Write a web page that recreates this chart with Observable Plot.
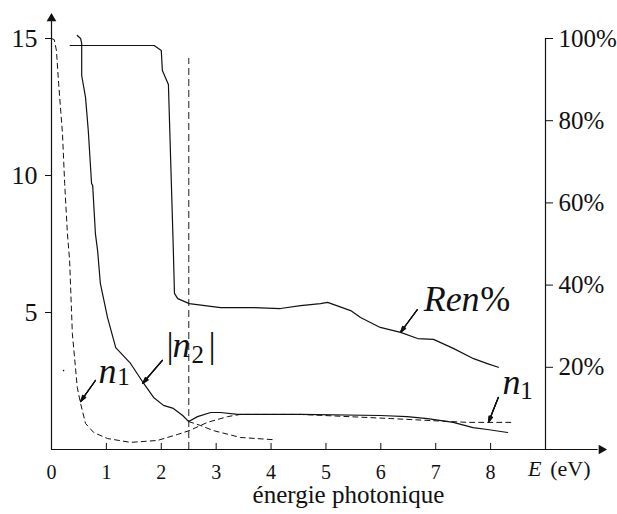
<!DOCTYPE html>
<html>
<head>
<meta charset="utf-8">
<script src="https://cdn.jsdelivr.net/npm/d3@7"></script>
<script src="https://cdn.jsdelivr.net/npm/@observablehq/plot@0.6"></script>
<style>
  html, body { margin: 0; padding: 0; background: white; }
  #wrap { position: relative; width: 617px; height: 514px; overflow: hidden; }
  #caption { position: absolute; top: 482px; left: 348.5px; transform: translateX(-50%); white-space: nowrap;
    font-family: "Liberation Serif", "DejaVu Serif", serif; font-size: 25px; line-height: 26px; color: #111; }
</style>
</head>
<body>
<div id="wrap">
  <div id="chart"></div>
  <div id="caption"></div>
</div>
<script>
// ---- data ----
const xTicks = [0, 1, 2, 3, 4, 5, 6, 7, 8];
const yTicks = [5, 10, 15];
const pctTicks = [20, 40, 60, 80, 100];
const PCT = 15 / 100; // right axis: 100% corresponds to 15 on the left axis
const xTitle = "énergie photonique";

// Ren% (right axis, percent)
const renE = [0.34, 1.87, 2.0, 2.02, 2.13, 2.22, 2.24, 2.30, 2.51, 3.08, 3.68, 4.17, 4.54, 4.90, 5.03, 5.45, 5.63, 5.99, 6.36, 6.67, 6.96, 7.32, 7.69, 7.94, 8.14];
const renPct = [98.3, 98.3, 97.1, 92.2, 88.8, 48.4, 38.0, 36.7, 35.5, 34.5, 34.5, 34.3, 35.0, 35.5, 35.8, 33.8, 32.1, 29.7, 28.5, 27.0, 26.8, 24.6, 22.1, 20.9, 20.0];

// |n2| (solid)
const n2E = [0.47, 0.53, 0.55, 0.55, 0.62, 0.67, 0.73, 0.75, 0.80, 0.84, 0.89, 1.02, 1.17, 1.44, 1.68, 1.86, 2.04, 2.22, 2.39, 2.5, 2.66, 2.90, 3.08, 3.39, 4.54, 5.99, 6.48, 6.85, 7.32, 7.68, 7.94, 8.31];
const n2V = [15.11, 15.0, 14.82, 13.65, 12.85, 11.64, 9.71, 9.64, 7.88, 7.26, 6.06, 4.82, 3.72, 3.14, 2.41, 1.90, 1.61, 1.50, 1.24, 1.02, 1.20, 1.35, 1.35, 1.28, 1.28, 1.24, 1.20, 1.13, 0.99, 0.80, 0.73, 0.62];

// n1 (dashed)
const n1E = [0, 0.05, 0.09, 0.13, 0.20, 0.24, 0.29, 0.33, 0.38, 0.47, 0.53, 0.62, 0.77, 1.02, 1.44, 1.93, 2.30, 2.51, 2.84, 3.21, 3.44, 4.54, 6.17, 7.27, 7.58, 8.40];
const n1V = [15.0, 14.96, 14.56, 13.36, 11.53, 9.71, 7.88, 6.90, 4.23, 2.26, 1.68, 0.95, 0.62, 0.40, 0.26, 0.33, 0.55, 0.69, 0.99, 1.20, 1.28, 1.28, 1.13, 1.02, 0.99, 0.99];

// second dashed branch (decreasing after the gap)
const kE = [2.5, 2.71, 2.95, 3.44, 4.03];
const kV = [1.02, 0.88, 0.69, 0.44, 0.36];

const gapE = 2.5; // vertical dashed line
const gapTop = 14.27;

// annotation labels (data coordinates)
const labels = [
  {t: "Ren", x: 6.78, y: 5.07, size: 36, italic: true, anchor: "start"},
  {t: "%", x: 8.36, y: 5.07, size: 36, italic: false, anchor: "end"},
  {t: "n", x: 8.215, y: 2.04, size: 36, italic: true, anchor: "start"},
  {t: "1", x: 8.54, y: 1.86, size: 25, italic: false, anchor: "start"},
  {t: "n", x: 0.856, y: 2.445, size: 36, italic: true, anchor: "start"},
  {t: "1", x: 1.20, y: 2.336, size: 25, italic: false, anchor: "start"},
  {t: "|", x: 2.095, y: 3.358, size: 36, italic: false, anchor: "start"},
  {t: "n", x: 2.204, y: 3.358, size: 36, italic: true, anchor: "start"},
  {t: "2", x: 2.55, y: 3.175, size: 25, italic: false, anchor: "start"},
  {t: "|", x: 2.86, y: 3.358, size: 36, italic: false, anchor: "start"},
  {t: "E", x: 8.68, y: -0.95, size: 22, italic: true, anchor: "start"},
  {t: "(eV)", x: 9.82, y: -0.95, size: 22, italic: false, anchor: "end"}
];

// annotation arrows (from label toward curve)
const arrows = [
  {x1: 6.667, y1: 5.11, x2: 6.357, y2: 4.27},
  {x1: 8.14, y1: 1.90, x2: 7.96, y2: 0.985},
  {x1: 2.02, y1: 3.25, x2: 1.66, y2: 2.41},
  {x1: 0.80, y1: 2.52, x2: 0.53, y2: 1.75}
];

// ---- build tables ----
const ren = renE.map((e, i) => ({e, v: renPct[i] * PCT}));
const n2 = n2E.map((e, i) => ({e, v: n2V[i]}));
const n1 = n1E.map((e, i) => ({e, v: n1V[i]}));
const k = kE.map((e, i) => ({e, v: kV[i]}));

const ink = "#111";
const serif = "Liberation Serif, DejaVu Serif, serif";

function render() {
  const arrowMarks = [34, 24, 14, 5].map(a =>
    Plot.arrow(arrows, {x1: "x1", y1: "y1", x2: "x2", y2: "y2", stroke: ink, strokeWidth: 1.1, headLength: 9, headAngle: a})
  );

  const labelMarks = labels.map(l =>
    Plot.text([l], {x: "x", y: "y", text: "t", fontSize: l.size, fontStyle: l.italic ? "italic" : "normal",
      fontFamily: serif, textAnchor: l.anchor, lineAnchor: "bottom", fill: ink})
  );

  const chart = Plot.plot({
    width: 617,
    height: 482,
    marginLeft: 51,
    marginRight: 72,
    marginTop: 38,
    marginBottom: 33,
    x: {domain: [0, 9]},
    y: {domain: [0, 15]},
    style: {fontFamily: serif, background: "white", color: ink},
    marks: [
      Plot.ruleX([0], {y1: 0, y2: 15.62, stroke: ink, strokeWidth: 1.2}),
      Plot.ruleY([0], {x1: 0, x2: 9.96, stroke: ink, strokeWidth: 1.2}),
      Plot.ruleX([9], {y1: 0, y2: 15, stroke: ink, strokeWidth: 1.2}),
      Plot.dot([{x: 0, y: 15.73}], {x: "x", y: "y", symbol: "triangle", r: 3.6, fill: ink, stroke: null, rotate: 0}),
      Plot.dot([{x: 10.02, y: 0}], {x: "x", y: "y", symbol: "triangle", r: 3.6, fill: ink, stroke: null, rotate: 90}),
      Plot.ruleX(xTicks.slice(1), {x: d => d, y1: 0, y2: 0.22, stroke: ink, strokeWidth: 1}),
      Plot.axisX({ticks: xTicks, tickSize: 0, tickPadding: 15, fontSize: 20, fontFamily: serif, label: null, tickFormat: d => String(d)}),
      Plot.axisY({ticks: yTicks, anchor: "left", tickSize: 6, tickPadding: 8, fontSize: 26, fontFamily: serif, label: null, tickFormat: d => String(d)}),
      Plot.axisY({ticks: pctTicks.map(p => p * PCT), anchor: "right", tickSize: 7, tickPadding: 6, fontSize: 25, fontFamily: serif, label: null,
        tickFormat: d => Math.round(d / PCT) + "%"}),
      Plot.ruleX([gapE], {y1: 0, y2: gapTop, stroke: "#555", strokeWidth: 1.3, strokeDasharray: "7,4"}),
      Plot.line(n1, {x: "e", y: "v", stroke: ink, strokeWidth: 1, strokeDasharray: "5,4"}),
      Plot.line(k, {x: "e", y: "v", stroke: ink, strokeWidth: 1, strokeDasharray: "5,4"}),
      Plot.line(n2, {x: "e", y: "v", stroke: ink, strokeWidth: 1.2}),
      Plot.line(ren, {x: "e", y: "v", stroke: ink, strokeWidth: 1.2}),
      Plot.dot([{x: 0.22, y: 2.88}], {x: "x", y: "y", r: 0.8, fill: ink, stroke: null}),
      ...arrowMarks,
      ...labelMarks
    ]
  });

  chart.setAttribute("font-family", serif);
  document.getElementById("chart").appendChild(chart);
  document.getElementById("caption").textContent = xTitle;
}

document.fonts.check("20px 'Liberation Serif'");
document.fonts.check("italic 20px 'Liberation Serif'");
render();
</script>
</body>
</html>
